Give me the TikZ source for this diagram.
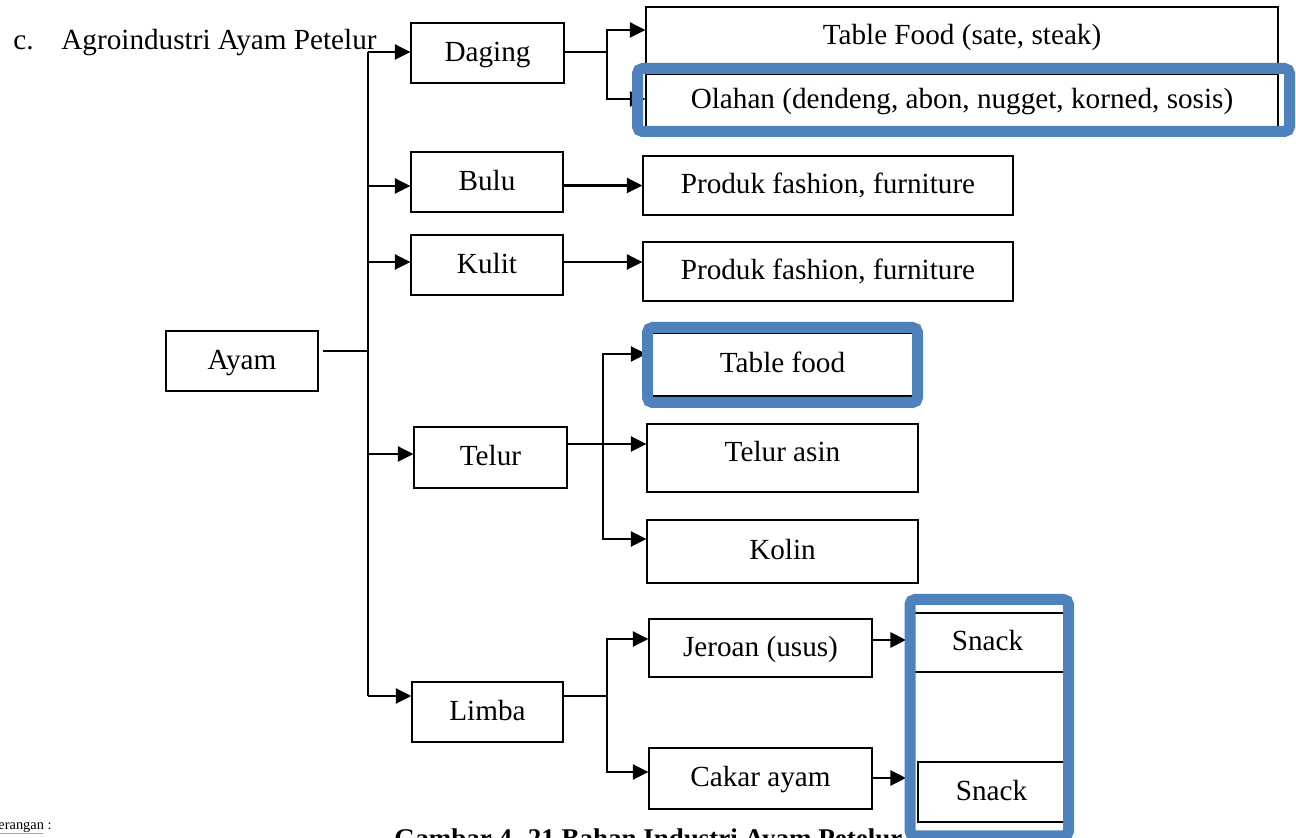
\documentclass[tikz,border=0pt]{standalone}
\usepackage{fontspec}
\setmainfont{Liberation Serif}
\usetikzlibrary{arrows.meta,calc}
\definecolor{hlblue}{RGB}{79,129,189}
\definecolor{ulgray}{RGB}{150,165,195}
\begin{document}
\begin{tikzpicture}[x=0.5pt,y=-0.5pt,
  txt/.style={font=\fontsize{14.6}{17}\selectfont, inner sep=0pt},
  box/.style={txt, draw=black, line width=0.65pt, fill=white,
    text height=0.85em, text depth=0em},
  conn/.style={line width=1.05pt},
  arr/.style={conn, -{Triangle[length=7.8pt,width=7.6pt]}},
  hl/.style={draw=hlblue, line width=5.5pt, rounded corners=2.5pt}]
\useasboundingbox (0,0) rectangle (1296,838);
\clip (0,0) rectangle (1296,838);

% heading
\node[txt, anchor=base west] (hc) at (13,50) {c.};
\node[txt, anchor=base west] (ht) at (61,50) {Agroindustri Ayam Petelur};

% first level
\node[box, minimum width=76pt, minimum height=30pt] (ayam) at (242,361) {Ayam};
\node[box, minimum width=76.5pt, minimum height=30pt] (daging) at (487.5,53) {Daging};
\node[box, minimum width=76pt, minimum height=30pt] (bulu) at (487,182) {Bulu};
\node[box, minimum width=76pt, minimum height=30pt] (kulit) at (487,265) {Kulit};
\node[box, minimum width=76.5pt, minimum height=30.5pt] (telur) at (490.5,457.5) {Telur};
\node[box, minimum width=75.5pt, minimum height=30pt] (limba) at (487.5,712) {Limba};

% products
\node[box, minimum width=316pt, minimum height=29.5pt] (tfood) at (962,36.5) {Table Food (sate, steak)};
\node[box, minimum width=316pt, minimum height=26.5pt] (olahan) at (962,100.5) {Olahan (dendeng, abon, nugget, korned, sosis)};
\node[box, minimum width=185pt, minimum height=29.5pt] (prod1) at (828,185.5) {Produk fashion, furniture};
\node[box, minimum width=185pt, minimum height=29.5pt] (prod2) at (828,271.5) {Produk fashion, furniture};
\node[box, minimum width=135.5pt, minimum height=31.5pt] (tbl) at (782.5,364.5) {Table food};
\node[box, minimum width=135.5pt, minimum height=34pt, text depth=0.48em] (asin) at (782.5,458) {Telur asin};
\node[box, minimum width=135.5pt, minimum height=31.5pt] (kolin) at (782.5,551.5) {Kolin};
\node[box, minimum width=111.5pt, minimum height=29pt] (jeroan) at (760.5,648) {Jeroan (usus)};
\node[box, minimum width=111.5pt, minimum height=30.5pt] (cakar) at (760.5,778.5) {Cakar ayam};
\node[box, minimum width=77.5pt, minimum height=29.5pt] (snack1) at (987.5,642.5) {Snack};
\node[box, minimum width=73.5pt, minimum height=30pt] (snack2) at (991.5,792) {Snack};

% main trunk
\coordinate (tr1) at (368,52);
\coordinate (tr2) at (368,696);
\coordinate (trA) at (368,351);
\draw[conn] (tr1) -- (tr2);
\draw[conn] ([shift={(2pt,5pt)}]ayam.east) -- (trA);
\coordinate (bw) at ([yshift=-2pt]bulu.west);
\coordinate (kw) at ([yshift=1.5pt]kulit.west);
\coordinate (tw) at ([yshift=1.75pt]telur.west);
\coordinate (lw) at ([yshift=8pt]limba.west);
\draw[arr] (tr1) -- (daging.west |- tr1);
\draw[arr] (tr1 |- bw) -- (bw);
\draw[arr] (tr1 |- kw) -- (kw);
\draw[arr] (tr1 |- tw) -- (tw);
\draw[arr] (tr2) -- (lw);

% Daging branches
\coordinate (dsplit) at (607,52);
\draw[conn] (daging.east |- dsplit) -- (dsplit);
\draw[arr] (dsplit) |- ([yshift=3.25pt]tfood.west);
\draw[arr] (dsplit) |- ([yshift=0.75pt]olahan.west);

% Bulu and Kulit
\coordinate (ke) at ([yshift=1.5pt]kulit.east);
\draw[arr] (bulu.east |- prod1.west) -- (prod1.west);
\draw[arr] (ke) -- (prod2.west |- ke);

% Telur branches
\coordinate (tsplit) at (603,444);
\draw[arr] (telur.east |- tsplit) -- (asin.west |- tsplit);
\draw[arr] (tsplit) |- ([yshift=5.25pt]tbl.west);
\draw[arr] (tsplit) |- ([yshift=6.25pt]kolin.west);

% Limba branches
\coordinate (lsplit) at (607,696);
\draw[conn] (limba.east |- lsplit) -- (lsplit);
\draw[arr] (lsplit) |- ([yshift=4.5pt]jeroan.west);
\draw[arr] (lsplit) |- ([yshift=3.25pt]cakar.west);
\coordinate (s1in) at (906,640);
\draw[arr] (jeroan.east |- s1in) -- (s1in);
\coordinate (s2in) at (906,778);
\draw[arr] (cakar.east |- s2in) -- (s2in);

% highlight frames
\draw[hl] (637.5,68.5) rectangle (1289.5,131.5);
\draw[hl] (647.5,327.5) rectangle (917.5,402.5);
\draw[hl] (910,599.5) rectangle (1068.5,836);

% caption lines
\node[font=\fontsize{7.2}{8}\selectfont, inner sep=0pt, anchor=base east] (ket) at (52,830) {Keterangan :};
\draw[ulgray, line width=0.4pt] (0,833) -- (43,833);
\node[font=\bfseries\fontsize{13.5}{16}\selectfont, inner sep=0pt, anchor=base west] (cap) at (394,848) {Gambar 4. 21 Bahan Industri Ayam Petelur};
\end{tikzpicture}
\end{document}
